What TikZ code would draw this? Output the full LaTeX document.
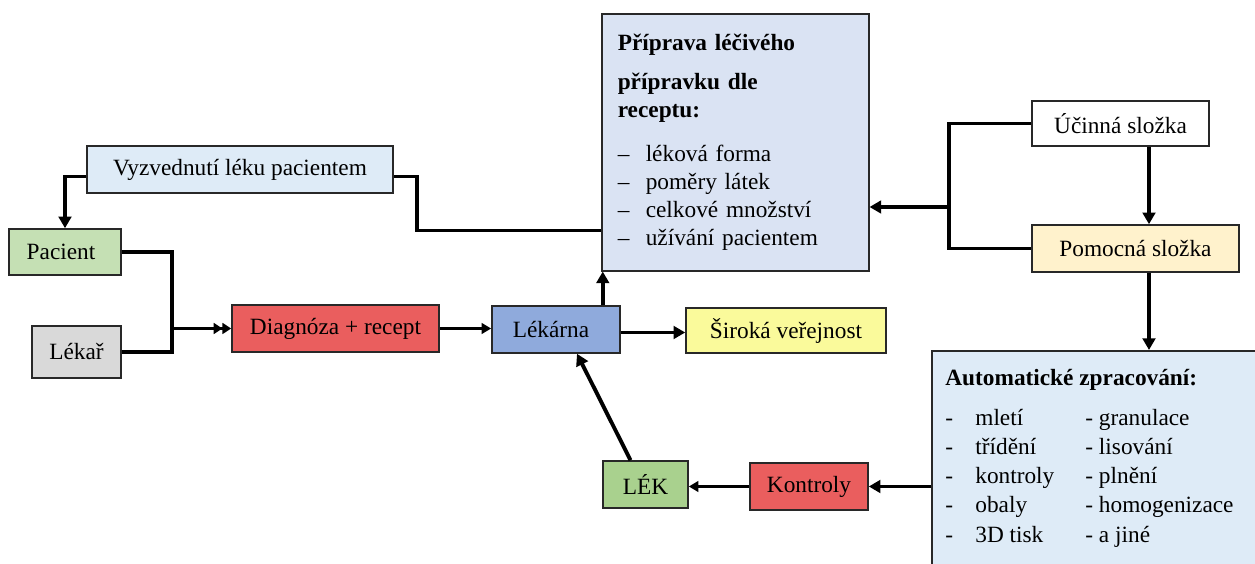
\documentclass[tikz,border=0pt]{standalone}
\usepackage{fontspec}
\setmainfont{Liberation Serif}
\usetikzlibrary{arrows.meta,positioning,calc}
\definecolor{pickupblue}{RGB}{222,235,247}
\definecolor{patientgreen}{RGB}{197,224,180}
\definecolor{doctorgray}{RGB}{217,217,217}
\definecolor{diagnosisred}{RGB}{234,94,94}
\definecolor{pharmacyblue}{RGB}{143,170,220}
\definecolor{publicyellow}{RGB}{250,250,155}
\definecolor{prepblue}{RGB}{218,227,243}
\definecolor{auxyellow}{RGB}{255,242,204}
\definecolor{procblue}{RGB}{222,235,247}
\definecolor{drugreen}{RGB}{169,209,142}
\definecolor{edgegray}{RGB}{40,40,40}
\newlength{\px}
\setlength{\px}{0.0181cm}

\begin{document}
\begin{tikzpicture}[
    x=\px, y=-\px,
    every node/.style={font=\fontsize{12}{14.5}\selectfont},
    box/.style={draw=edgegray,line width=0.8pt,inner sep=0pt},
    dims/.style 2 args={minimum width=#1\px,minimum height=#2\px},
    link/.style={line width=2pt},
    flow/.style={line width=2pt,-{Triangle[length=6pt,width=6.5pt]}},
    thinflow/.style={line width=1.3pt,-{Triangle[length=5pt,width=5.5pt]}},
    dblflow/.style={line width=1.3pt,-{Triangle[length=4.5pt,width=5.5pt]Triangle[length=4.5pt,width=5.5pt]}}
]
\useasboundingbox (0,0) rectangle (1255,564);
\clip (0,0) rectangle (1255,564);

% Left side
\node[box,dims={306}{47},fill=pickupblue] (pickup) at (240,169.5) {Vyzvednutí léku pacientem};
\node[box,dims={112}{46},fill=patientgreen] (patient) at (65,252) {\hspace*{-8\px}Pacient};
\node[box,dims={89}{52},fill=doctorgray] (doctor) at (76.5,352) {Lékař};
\node[box,dims={207}{47},fill=diagnosisred] (diagnosis) at (335.5,328.5) {Diagnóza + recept};

% Pharmacy
\node[box,dims={128}{47},fill=pharmacyblue] (pharmacy) at (556,329.5) {\hspace*{-10\px}Lékárna};
\node[box,dims={200}{45},fill=publicyellow] (public) at (786,330.5) {Široká veřejnost};

% Preparation
\node[box,dims={267}{257},fill=prepblue,anchor=north west,text width=235\px,inner xsep=16\px,align=left] (prep) at (601,13) {%
\textbf{Příprava léčivého}\\[5.7pt]
\textbf{přípravku dle}\\
\textbf{receptu:}\\[8pt]
\makebox[28\px][l]{--}léková forma\\
\makebox[28\px][l]{--}poměry látek\\
\makebox[28\px][l]{--}celkové množství\\
\makebox[28\px][l]{--}užívání pacientem};

% Components
\node[box,dims={177}{45},fill=white] (active) at (1120.5,123.5) {Účinná složka};
\node[box,dims={207}{47},fill=auxyellow] (auxiliary) at (1135.5,248.5) {Pomocná složka};

% Automatic processing
\node[box,dims={360}{260},fill=procblue,anchor=north west] (processing) at (931,350) {};
\node[anchor=north west,inner sep=0pt,font=\fontsize{12}{15}\selectfont] (proctext) at ($(processing.north west)+(14,15)$) {%
\begin{tabular}{@{}p{30\px}@{}p{110\px}@{}l@{}}
\multicolumn{3}{@{}l@{}}{\textbf{Automatické zpracování:}}\\[5.5pt]
- & mletí & - granulace\\
- & třídění & - lisování\\
- & kontroly & - plnění\\
- & obaly & - homogenizace\\
- & 3D tisk & - a jiné
\end{tabular}};

% Output
\node[box,dims={85}{47},fill=drugreen] (drug) at (645.5,484.5) {LÉK};
\node[box,dims={118}{47},fill=diagnosisred] (checks) at (809,486.5) {Kontroly};

% Connections
\draw[flow] ($(pickup.west)+(0,7)$) -| (patient.north);
\draw[link] ($(pickup.east)+(0,7)$) -- ++(23,0) |- ($(prep.south west)+(0,-41)$);

\coordinate (join) at (172,328.5);
\draw[link] (patient.east) -| (join) |- (doctor.east);
\draw[dblflow] (join) -- (diagnosis.west);
\draw[thinflow] (diagnosis.east) -- (diagnosis.east -| pharmacy.west);

\coordinate (lift) at ($(pharmacy.north east)+(-18,0)$);
\draw[flow] (lift) -- (lift |- prep.south);
\draw[flow] ($(pharmacy.east)+(0,3)$) -- ($(pharmacy.east -| public.west)+(0,3)$);

\coordinate (bus) at (949,207);
\draw[link] (active.west) -| (bus |- auxiliary.west) -- (auxiliary.west);
\draw[flow] (bus) -- (bus -| prep.east);

\coordinate (drop) at (1149,0);
\draw[flow] (drop |- active.south) -- (drop |- auxiliary.north);
\draw[flow] (drop |- auxiliary.south) -- (drop |- processing.north);

\draw[flow] (checks.east -| processing.west) -- (checks.east);
\draw[thinflow] (checks.west) -- (checks.west -| drug.east);
\draw[flow] ($(drug.north)+(-15,0)$) -- ($(pharmacy.south)+(21,0)$);

\end{tikzpicture}
\end{document}
